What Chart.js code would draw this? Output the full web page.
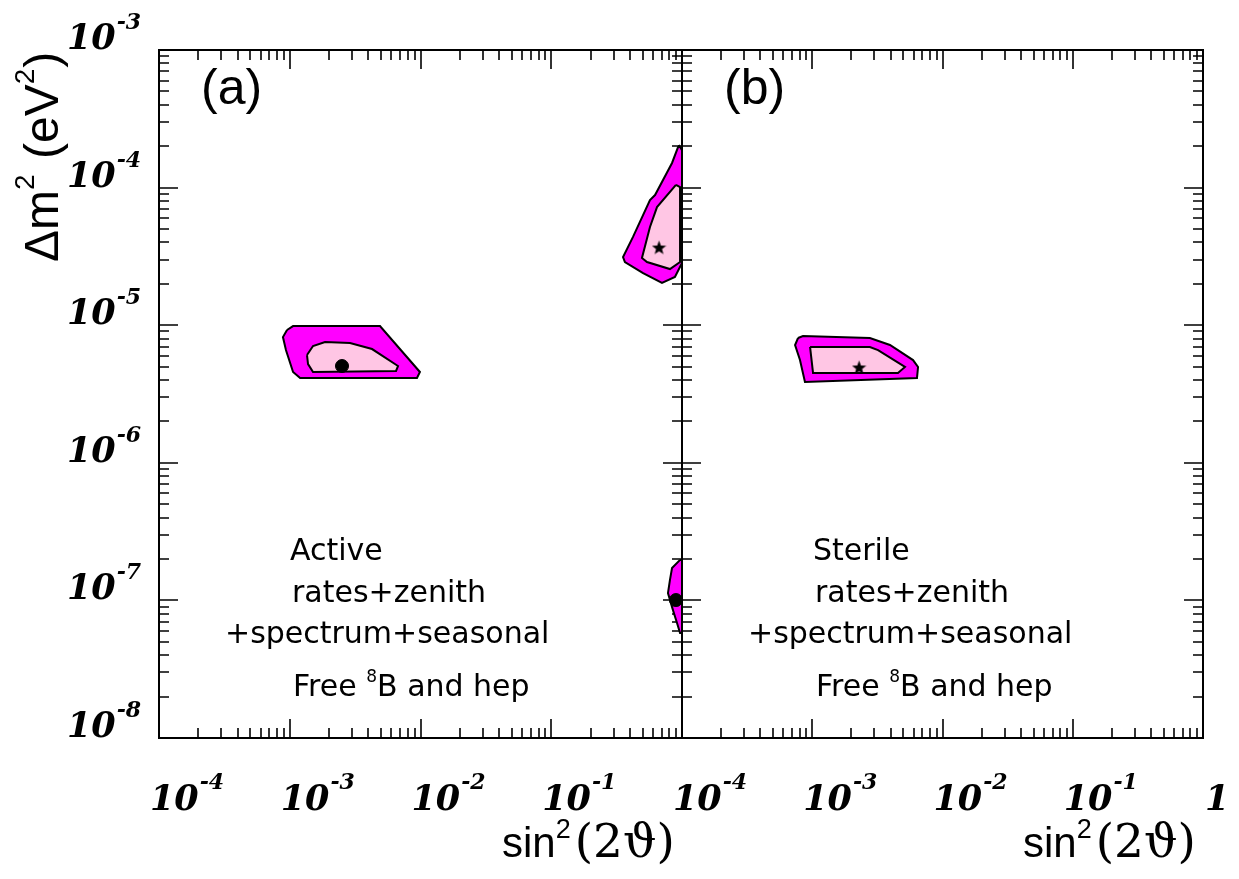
<!DOCTYPE html>
<html lang="en">
<head>
  <meta charset="UTF-8">
  <title>Active / sterile solar neutrino regions</title>
  <script src="https://cdn.jsdelivr.net/npm/chart.js"></script>
  <style>
    body { margin: 0; background: #fff; }
    .wrap { position: relative; width: 1239px; height: 879px; }
    .wrap canvas { position: absolute; left: 0; top: 0; }
  </style>
</head>
<body>
  <div class="wrap">
    <canvas id="panelA" width="1239" height="879"></canvas>
    <canvas id="panelB" width="1239" height="879"></canvas>
  </div>
  <script>
    // axis ranges and tick labels (exponents of 10)
    const X_MIN = 1e-4, X_MAX = 1;
    const Y_MIN = 1e-8, Y_MAX = 1e-3;
    const yTickExps = [-3, -4, -5, -6, -7, -8];
    const xTickExpsA = [-4, -3, -2, -1];
    const xTickExpsB = [-4, -3, -2, -1, 0];

    // panel (a) - active, small mixing angle region
    const smaOuterA_x = [9.53e-4, 1.06e-3, 4.90e-3, 9.9e-3, 9.4e-3, 1.20e-3, 1.06e-3, 9.35e-4, 8.87e-4, 9.53e-4];
    const smaOuterA_y = [9.23e-6, 9.86e-6, 9.86e-6, 4.57e-6, 4.13e-6, 4.13e-6, 4.57e-6, 6.60e-6, 8.2e-6, 9.23e-6];
    const smaInnerA_x = [1.355e-3, 1.507e-3, 1.862e-3, 2.89e-3, 4.26e-3, 6.73e-3, 6.50e-3, 1.507e-3, 1.38e-3, 1.355e-3];
    const smaInnerA_y = [6.07e-6, 7.06e-6, 7.55e-6, 7.43e-6, 6.71e-6, 5.05e-6, 4.65e-6, 4.57e-6, 5.22e-6, 6.07e-6];
    // panel (a) - large mixing angle region
    const lmaOuterA_x = [0.948, 1.0, 1.0, 0.883, 0.703, 0.504, 0.366, 0.354, 0.422, 0.569, 0.622, 0.839, 0.933, 0.948];
    const lmaOuterA_y = [2.04e-4, 1.87e-4, 2.83e-5, 2.24e-5, 2.03e-5, 2.39e-5, 2.88e-5, 3.13e-5, 4.38e-5, 8.12e-5, 8.83e-5, 1.51e-4, 1.97e-4, 2.04e-4];
    const lmaInnerA_x = [0.899, 0.966, 0.966, 0.809, 0.540, 0.494, 0.569, 0.644, 0.899];
    const lmaInnerA_y = [1.045e-4, 1.01e-4, 2.88e-5, 2.56e-5, 2.88e-5, 3.08e-5, 5.17e-5, 7.22e-5, 1.045e-4];
    // panel (a) - LOW region
    const lowA_x = [0.966, 1.0, 1.0, 0.966, 0.916, 0.853, 0.809, 0.781, 0.809, 0.839, 0.966];
    const lowA_y = [1.97e-7, 1.97e-7, 5.8e-8, 5.8e-8, 6.85e-8, 8.5e-8, 1.006e-7, 1.13e-7, 1.41e-7, 1.72e-7, 1.97e-7];
    // panel (a) best fit points
    const bestDotsA_x = [2.51e-3, 0.899];
    const bestDotsA_y = [5.05e-6, 1.006e-7];
    const starA_x = [0.667];
    const starA_y = [3.70e-5];

    // panel (b) - sterile, small mixing angle region
    const smaOuterB_x = [7.78e-4, 8.49e-4, 2.77e-3, 3.95e-3, 5.94e-3, 6.49e-3, 6.37e-3, 8.79e-4, 8.05e-4, 7.38e-4, 7.78e-4];
    const smaOuterB_y = [8.07e-6, 8.35e-6, 8.07e-6, 7.18e-6, 5.58e-6, 4.97e-6, 4.13e-6, 3.86e-6, 5.58e-6, 7.18e-6, 8.07e-6];
    const smaInnerB_x = [9.62e-4, 2.77e-3, 3.20e-3, 5.15e-3, 4.55e-3, 1.014e-3, 9.62e-4];
    const smaInnerB_y = [6.95e-6, 6.95e-6, 6.60e-6, 4.97e-6, 4.50e-6, 4.50e-6, 6.95e-6];
    const starB_x = [2.29e-3];
    const starB_y = [4.97e-6];

    const notesA = ['Active', 'rates+zenith', '+spectrum+seasonal'];
    const notesB = ['Sterile', 'rates+zenith', '+spectrum+seasonal'];

    const MAGENTA = '#ff00ff';
    const PINK = '#ffc6e4';

    function pts(xs, ys) {
      return xs.map((x, i) => ({ x: x, y: ys[i] }));
    }

    function makeStar(size) {
      const c = document.createElement('canvas');
      c.width = c.height = size;
      const g = c.getContext('2d');
      g.beginPath();
      for (let i = 0; i < 10; i++) {
        const r = i % 2 ? size * 0.21 : size / 2;
        const a = -Math.PI / 2 + i * Math.PI / 5;
        g.lineTo(size / 2 + r * Math.cos(a), size / 2 + 1 + r * Math.sin(a));
      }
      g.closePath();
      g.fillStyle = '#000';
      g.fill();
      return c;
    }
    const starImg = makeStar(15);

    function region(xs, ys, color, order) {
      return {
        data: pts(xs, ys), showLine: true, fill: 'shape', tension: 0,
        backgroundColor: color, borderColor: '#000', borderWidth: 2,
        pointRadius: 0, order: order
      };
    }

    // draw pieces of text one after another (for superscripts)
    function drawRich(ctx, x, y, parts) {
      parts.forEach(p => {
        ctx.font = p[1];
        ctx.fillText(p[0], x, y - (p[2] || 0));
        x += ctx.measureText(p[0]).width + (p[3] || 0);
      });
    }

    const SERIF_BI = 'italic bold 35px "DejaVu Serif"';
    const SERIF_BI_SUP = 'italic bold 22px "DejaVu Serif"';
    const NOTE = '30px "DejaVu Sans"';

    function tickList(lo, hi) {
      const major = [], minor = [];
      for (let d = lo; d <= hi; d++) {
        major.push(Math.pow(10, d));
        if (d < hi) for (let k = 2; k <= 9; k++) minor.push(k * Math.pow(10, d));
      }
      return { major, minor };
    }

    const panelDeco = {
      id: 'panelDeco',
      beforeDatasetsDraw(chart) {
        const ctx = chart.ctx, a = chart.chartArea;
        const xs = chart.scales.x, ys = chart.scales.y;
        const xt = tickList(-4, 0), yt = tickList(-8, -3);
        ctx.save();
        ctx.strokeStyle = '#000';
        ctx.lineWidth = 1.6;
        ctx.beginPath();
        [[xt.major, 19], [xt.minor, 10]].forEach(([vals, len]) => {
          vals.forEach(v => {
            const px = Math.round(xs.getPixelForValue(v));
            ctx.moveTo(px, a.bottom); ctx.lineTo(px, a.bottom - len);
            ctx.moveTo(px, a.top); ctx.lineTo(px, a.top + len);
          });
        });
        [[yt.major, 19], [yt.minor, 10]].forEach(([vals, len]) => {
          vals.forEach(v => {
            const py = Math.round(ys.getPixelForValue(v));
            ctx.moveTo(a.left, py); ctx.lineTo(a.left + len, py);
            ctx.moveTo(a.right, py); ctx.lineTo(a.right - len, py);
          });
        });
        ctx.stroke();
        ctx.restore();
      },
      afterDatasetsDraw(chart, args, opts) {
        const ctx = chart.ctx, a = chart.chartArea;
        const xs = chart.scales.x, ys = chart.scales.y;
        ctx.save();
        ctx.strokeStyle = '#000';
        ctx.lineWidth = 2;
        ctx.strokeRect(a.left, a.top, a.right - a.left, a.bottom - a.top);
        ctx.fillStyle = '#000';
        ctx.textAlign = 'left';
        ctx.textBaseline = 'alphabetic';

        // x tick labels
        opts.xExps.forEach(e => {
          const px = xs.getPixelForValue(Math.pow(10, e));
          if (e === 0) {
            drawRich(ctx, px + 2, 810, [['1', SERIF_BI]]);
          } else {
            drawRich(ctx, px - 9, 810, [['10', SERIF_BI, 0, 1], [String(e), SERIF_BI_SUP, 21]]);
          }
        });
        // y tick labels
        if (opts.yLabels) {
          yTickExps.forEach(e => {
            const py = ys.getPixelForValue(Math.pow(10, e));
            drawRich(ctx, 67, py - 1, [['10', SERIF_BI, 0, 1], [String(e), SERIF_BI_SUP, 20]]);
          });
          // y axis title
          ctx.save();
          ctx.translate(58, 262);
          ctx.rotate(-Math.PI / 2);
          drawRich(ctx, 0, 0, [
            ['\u0394m', '48px "Liberation Sans"'], ['2', '28px "Liberation Sans"', 24, 2],
            [' (eV', '48px "Liberation Sans"'], ['2', '28px "Liberation Sans"', 24, 1],
            [')', '48px "Liberation Sans"']
          ]);
          ctx.restore();
        }
        // x axis title
        drawRich(ctx, a.right - 180, 857, [
          ['sin', '42px "Liberation Sans"'], ['2', '27px "Liberation Sans"', 19, 4],
          ['(2\u03d1)', '47px "DejaVu Serif"']
        ]);
        // panel tag
        drawRich(ctx, a.left + 42, 104, [[opts.tag, '50px "Liberation Sans"']]);
        // notes
        const n = opts.notes;
        drawRich(ctx, a.left + 131, 560, [[n[0], NOTE]]);
        drawRich(ctx, a.left + 133, 602, [[n[1], NOTE]]);
        drawRich(ctx, a.left + 66, 643, [[n[2], NOTE]]);
        drawRich(ctx, a.left + 134, 696, [['Free ', NOTE], ['8', '17px "DejaVu Sans"', 14], ['B and hep', NOTE]]);
        ctx.restore();
      }
    };

    function makeOptions(pad, deco) {
      return {
        responsive: false,
        animation: false,
        layout: { padding: pad },
        scales: {
          x: { type: 'logarithmic', min: X_MIN, max: X_MAX, display: false },
          y: { type: 'logarithmic', min: Y_MIN, max: Y_MAX, display: false }
        },
        plugins: {
          legend: { display: false },
          tooltip: { enabled: false },
          panelDeco: deco
        }
      };
    }

    new Chart(document.getElementById('panelA'), {
      type: 'scatter',
      data: {
        datasets: [
          { data: pts(bestDotsA_x, bestDotsA_y), pointStyle: 'circle', pointRadius: 6.5,
            backgroundColor: '#000', borderColor: '#000', borderWidth: 1, order: 0 },
          { data: pts(starA_x, starA_y), pointStyle: starImg, order: 0 },
          region(smaInnerA_x, smaInnerA_y, PINK, 1),
          region(lmaInnerA_x, lmaInnerA_y, PINK, 1),
          region(smaOuterA_x, smaOuterA_y, MAGENTA, 2),
          region(lmaOuterA_x, lmaOuterA_y, MAGENTA, 2),
          region(lowA_x, lowA_y, MAGENTA, 2)
        ]
      },
      options: makeOptions({ left: 159, right: 557, top: 50, bottom: 141 },
        { xExps: xTickExpsA, yLabels: true, tag: '(a)', notes: notesA }),
      plugins: [panelDeco]
    });

    new Chart(document.getElementById('panelB'), {
      type: 'scatter',
      data: {
        datasets: [
          { data: pts(starB_x, starB_y), pointStyle: starImg, order: 0 },
          region(smaInnerB_x, smaInnerB_y, PINK, 1),
          region(smaOuterB_x, smaOuterB_y, MAGENTA, 2)
        ]
      },
      options: makeOptions({ left: 682, right: 36, top: 50, bottom: 141 },
        { xExps: xTickExpsB, yLabels: false, tag: '(b)', notes: notesB }),
      plugins: [panelDeco]
    });
  </script>
</body>
</html>
